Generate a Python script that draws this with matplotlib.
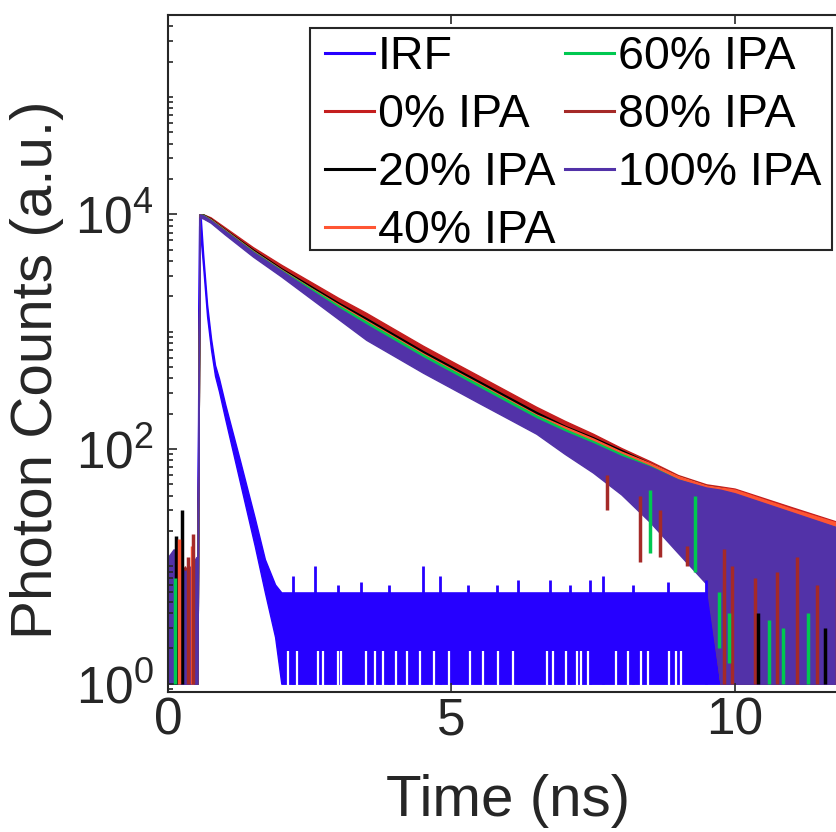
import numpy as np
import matplotlib
matplotlib.use('Agg')
import matplotlib.pyplot as plt
from matplotlib.ticker import LogLocator, NullFormatter, NullLocator
from matplotlib.patches import Rectangle

plt.rcParams['font.family'] = ['Liberation Sans', 'DejaVu Sans']
plt.rcParams['mathtext.fontset'] = 'custom'
plt.rcParams['mathtext.rm'] = 'Liberation Sans'
plt.rcParams['mathtext.it'] = 'Liberation Sans'

# ---------------- data ----------------
labels = ['IRF', '0% IPA', '20% IPA', '40% IPA', '60% IPA', '80% IPA', '100% IPA']
colors = ['#2600ff', '#c41e1e', '#000000', '#ff5533', '#00c850', '#a52a28', '#5232a8']

# shared time grid (ns) for the sample decays
t_grid = [0.00, 0.10, 0.20, 0.30, 0.40, 0.50, 0.52,
          0.56, 0.62, 0.75, 1.0, 1.5, 2.0, 2.5, 3.0, 3.5, 4.0, 4.5, 5.0, 5.5, 6.0,
          6.5, 7.0, 7.5, 8.0, 8.5, 9.0, 9.5, 9.75, 10.0, 11.0, 12.0]

# upper / lower envelope of each noisy trace (photon counts)
ipa0_hi = [5, 6, 4, 5, 6, 5, 5,
           10000, 10000, 9441, 7762, 5248, 3715, 2692, 1950, 1445, 1047, 759, 562, 417,
           309, 229, 174, 135, 102, 79, 60, 50, 48, 46, 32, 22.4]
ipa0_lo = [1, 1, 1, 1, 1, 1, 1,
           9550, 9661, 9120, 7413, 4955, 3467, 2483, 1778, 1288, 933, 676, 501, 372,
           275, 204, 151, 115, 85, 63, 46, 35, 1, 1, 1, 1]

ipa20_hi = [6, 8, 10, 7, 6, 5, 5,
            10000, 10000, 9226, 7499, 5012, 3467, 2483, 1778, 1303, 944, 684, 507, 376,
            279, 207, 158, 126, 98, 76, 59, 49, 47, 44, 30, 21]
ipa20_lo = [1, 1, 1, 1, 1, 1, 1,
            9550, 9550, 8913, 7161, 4732, 3273, 2317, 1641, 1189, 861, 624, 462, 343,
            254, 188, 141, 107, 79, 59, 43, 32, 1, 1, 1, 1]

ipa40_hi = [8, 10, 12, 9, 8, 6, 6,
            10000, 9890, 9120, 7413, 4898, 3388, 2399, 1718, 1245, 902, 653, 484, 359,
            266, 197, 155, 123, 95, 76, 59, 49, 47, 45, 31, 22]
ipa40_lo = [1, 1, 1, 1, 1, 1, 1,
            9500, 9441, 8810, 7079, 4624, 3199, 2265, 1603, 1148, 832, 603, 447, 331,
            245, 182, 138, 105, 78, 58, 42, 32, 1, 1, 1, 1]

ipa60_hi = [5, 7, 6, 7, 6, 5, 5,
            10000, 9890, 9016, 7328, 4842, 3350, 2371, 1679, 1216, 881, 638, 473, 351,
            260, 193, 148, 117, 91, 72, 55, 46, 44, 41, 28, 20]
ipa60_lo = [1, 1, 1, 1, 1, 1, 1,
            9500, 9441, 8710, 6998, 4571, 3162, 2239, 1567, 1122, 813, 589, 437, 324,
            240, 178, 132, 98, 68, 45, 27, 16, 1, 1, 1, 1]

ipa80_hi = [6, 9, 8, 10, 8, 7, 7,
            10000, 9772, 8913, 7244, 4732, 3236, 2239, 1585, 1122, 813, 589, 437, 324,
            240, 178, 138, 110, 85, 68, 52, 45, 43, 40, 28, 19.5]
ipa80_lo = [1, 1, 1, 1, 1, 1, 1,
            9500, 9333, 8610, 6918, 4467, 3020, 2042, 1380, 933, 676, 490, 363, 269,
            200, 148, 98, 66, 43, 25, 14, 8, 1, 1, 1, 1]

ipa100_hi = [12, 14, 10, 9, 10, 12, 12,
             10000, 9772, 8913, 7244, 4786, 3311, 2291, 1603, 1148, 832, 603, 447, 331,
             245, 182, 141, 112, 87, 71, 55, 47, 45, 42, 29, 20]
ipa100_lo = [1, 1, 1, 1, 1, 1, 1,
             9400, 9226, 8511, 6761, 4365, 2951, 1950, 1288, 851, 617, 447, 331, 245,
             182, 135, 91, 63, 41, 24, 13, 7.1, 1, 1, 1, 1]

# isolated noise spikes of the samples (time, bottom, top)
ipa20_spk_t, ipa20_spk_lo, ipa20_spk_hi = [0.15, 0.25], [1, 1], [18, 30]
ipa40_spk_t, ipa40_spk_lo, ipa40_spk_hi = [0.20, 0.42], [1, 1], [17, 15]
ipa60_spk_t, ipa60_spk_lo, ipa60_spk_hi = [0.12, 8.50, 9.30], [1, 13, 9], [8, 45, 40]
ipa80_spk_t, ipa80_spk_lo, ipa80_spk_hi = [0.35, 0.45, 7.75, 8.33, 8.68, 9.16], [1, 1, 30, 11, 12, 10], [12, 19, 60, 40, 30, 15]

# segments still visible through gaps of the 100% trace in the tail
tail80_t, tail80_lo, tail80_hi = [9.82, 9.95, 10.35, 10.75, 11.1, 11.45, 11.8], [1] * 7, [14, 10, 8, 9, 12, 7, 8]
tail60_t, tail60_lo, tail60_hi = [9.72, 9.9, 10.6, 10.85, 11.3], [2, 1.5, 1, 1, 1], [6, 4, 3.5, 3, 4]
tail20_t, tail20_lo, tail20_hi = [10.42, 11.6], [1, 1], [4, 3]

# instrument response function
irf_t = [0.0, 0.50, 0.51, 0.55, 0.58, 0.62, 0.69, 0.76, 0.83, 0.90, 1.01, 1.27, 1.53,
         1.71, 1.89, 2.0, 12.0]
irf_hi = [1.6, 1.6, 3, 10000, 9000, 4600, 1700, 870, 520, 400, 240, 80, 26, 11.5, 7, 6, 6]
irf_lo = [1, 1, 1, 8000, 6000, 3600, 1350, 700, 420, 310, 180, 52, 15, 6, 2.5, 1, 1]
irf_spk_t = [2.2, 2.6, 3.0, 3.4, 3.9, 4.5, 4.8, 5.3, 5.8, 6.18, 6.74, 7.1, 7.44, 7.68,
             8.2, 8.82, 9.5]
irf_spk_v = [8.3, 10, 7, 7.4, 7, 10, 8.3, 7, 7, 7.6, 7.6, 7, 7.6, 8.3, 7, 7.3, 7.6]
# empty (zero-count) channels of the IRF floor
irf_gap_t = [2.12, 2.27, 2.65, 2.74, 3.0, 3.06, 3.5, 3.65, 3.8, 4.03, 4.21, 4.45, 4.7,
             4.95, 5.33, 5.56, 5.82, 6.09, 6.68, 6.79, 7.03, 7.21, 7.29, 7.41, 7.91,
             8.12, 8.35, 8.47, 8.85, 8.97, 9.06]
irf_gap_top = 1.9

x_ticks = [0, 5, 10]
x_ticklabels = ['0', '5', '10']
y_ticks = [1, 1e2, 1e4]
y_ticklabels = [r'$\mathregular{10^{0}}$', r'$\mathregular{10^{2}}$', r'$\mathregular{10^{4}}$']

# ---------------- figure ----------------
W, H = 837, 832
fig = plt.figure(figsize=(W / 100, H / 100), dpi=100)
ax = fig.add_axes([168 / W, (H - 692) / H, (848 - 168) / W, (692 - 15) / H])
ax.set_yscale('log')
ax.set_xlim(0, 12)
ax.set_ylim(0.85, 5e5)

lw_edge = 1.0
# IRF
ax.fill_between(irf_t, irf_lo, irf_hi, color=colors[0], lw=lw_edge, edgecolor=colors[0])
ax.vlines(irf_spk_t, 1, irf_spk_v, color=colors[0], lw=2)
ax.vlines(irf_gap_t, 0.86, irf_gap_top, color='white', lw=1.6)

samples = [
    (ipa0_lo, ipa0_hi, None),
    (ipa20_lo, ipa20_hi, (ipa20_spk_t, ipa20_spk_lo, ipa20_spk_hi)),
    (ipa40_lo, ipa40_hi, (ipa40_spk_t, ipa40_spk_lo, ipa40_spk_hi)),
    (ipa60_lo, ipa60_hi, (ipa60_spk_t, ipa60_spk_lo, ipa60_spk_hi)),
    (ipa80_lo, ipa80_hi, (ipa80_spk_t, ipa80_spk_lo, ipa80_spk_hi)),
    (ipa100_lo, ipa100_hi, None),
]
for (lo, hi, spk), c in zip(samples, colors[1:]):
    ax.fill_between(t_grid, lo, hi, color=c, lw=lw_edge, edgecolor=c)
    if spk is not None:
        ax.vlines(spk[0], spk[1], spk[2], color=c, lw=2.5)

ax.vlines(tail80_t, tail80_lo, tail80_hi, color=colors[5], lw=2.5)
ax.vlines(tail60_t, tail60_lo, tail60_hi, color=colors[4], lw=2.5)
ax.vlines(tail20_t, tail20_lo, tail20_hi, color=colors[2], lw=2.5)

# legend proxies
for lab, c in zip(labels, colors):
    ax.plot([], [], color=c, lw=2.2, label=lab)

txt = '#262626'
ax.set_xticks(x_ticks)
ax.set_xticklabels(x_ticklabels)
ax.xaxis.set_minor_locator(NullLocator())
ax.set_yticks(y_ticks)
ax.set_yticklabels(y_ticklabels)
ax.yaxis.set_minor_locator(LogLocator(base=10, subs=np.arange(1, 10), numticks=50))
ax.yaxis.set_minor_formatter(NullFormatter())
ax.tick_params(which='both', direction='in', top=True, right=True, colors=txt,
               width=1.2, labelcolor=txt)
ax.tick_params(which='major', length=6.5, labelsize=37)
ax.tick_params(axis='x', which='major', pad=3)
ax.tick_params(axis='y', which='major', pad=10)
ax.tick_params(which='minor', length=3.6)
for s in ax.spines.values():
    s.set_linewidth(1.5)
    s.set_color(txt)

ax.set_xlabel('Time (ns)', fontsize=42, color=txt)
ax.set_ylabel('Photon Counts (a.u.)', fontsize=42, color=txt)
ax.xaxis.set_label_coords(0.5, -0.121)
ax.yaxis.set_label_coords(-0.153, 0.4756)

# legend: frame drawn as a box, entries placed inside it
ax.add_patch(Rectangle((310 / W, 1 - 250 / H), 522 / W, 222 / H, transform=fig.transFigure,
                       facecolor='white', edgecolor=txt, lw=1.5, zorder=4.9, clip_on=False))
leg = ax.legend(ncol=2, loc='upper left', bbox_to_anchor=(325 / W, 1 - 35 / H),
                bbox_transform=fig.transFigure, borderaxespad=0, fontsize=33.5,
                frameon=False, handlelength=1.05, handletextpad=0.086,
                columnspacing=0.215, labelspacing=0.3, borderpad=0)

fig.savefig('out.png', dpi=100)
